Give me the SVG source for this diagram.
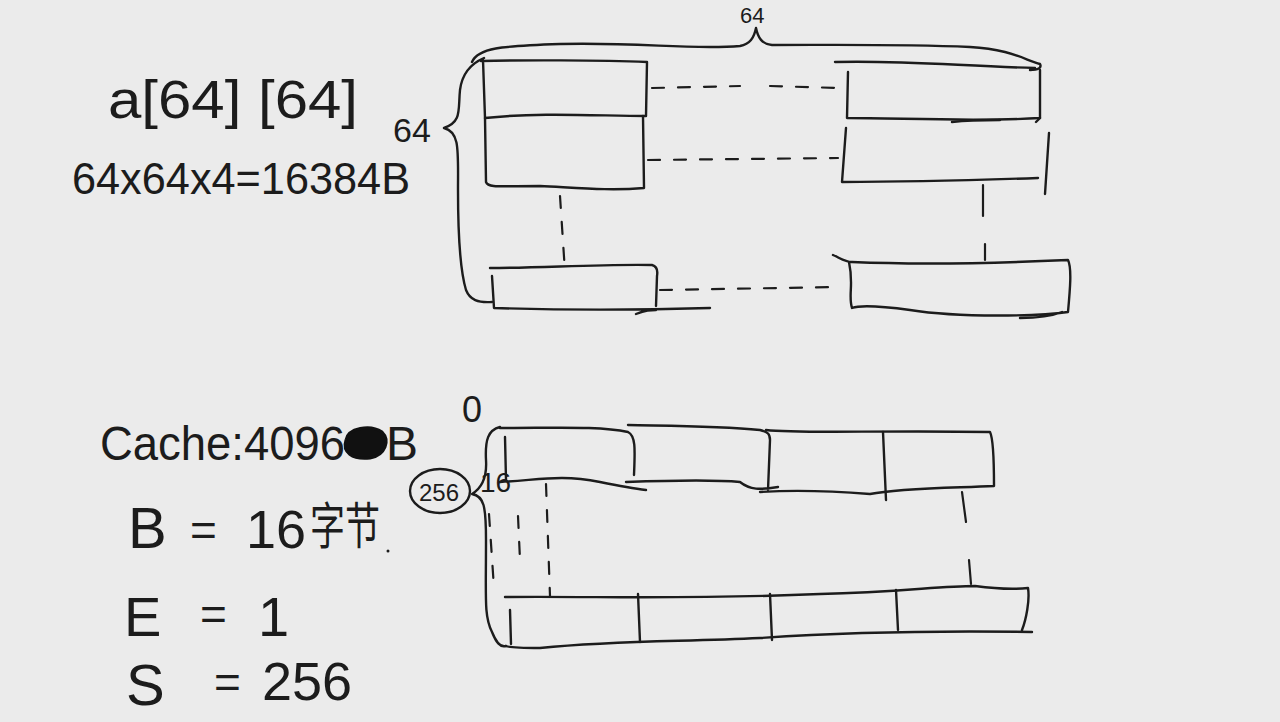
<svg xmlns="http://www.w3.org/2000/svg" width="1280" height="722" viewBox="0 0 1280 722">
<style>
.s{fill:none;stroke:#1c1c1c;stroke-width:2.4;stroke-linecap:round;stroke-linejoin:round}
.d{fill:none;stroke:#1c1c1c;stroke-width:2.2;stroke-linecap:round;stroke-dasharray:12 14}
.t{font-family:"Liberation Sans","Noto Sans CJK SC",sans-serif;fill:#1c1c1c}
</style>
<rect width="1280" height="722" fill="#ebebeb"/>

<g id="formula">
<text class="t" x="108" y="118" font-size="54" textLength="250" lengthAdjust="spacingAndGlyphs">a[64] [64]</text>
<text class="t" x="72" y="194" font-size="44" textLength="338" lengthAdjust="spacingAndGlyphs">64x64x4=16384B</text>
</g>

<g id="label-64-top"><text class="t" x="740" y="23" font-size="22">64</text></g>
<g id="label-64-side"><text class="t" x="393" y="142" font-size="34">64</text></g>

<g id="array-matrix">
<path class="s" d="M472,62 C478,48 500,46 560,44 C640,42 690,50 740,46 C750,44 754,38 756,28 C758,38 762,44 772,45 C840,45 900,44 970,47 C1010,49 1025,60 1040,64 C1042,68 1038,70 1030,70"/>
<path class="s" d="M484,58 C470,64 462,74 460,90 C458,110 462,122 444,128 C460,132 458,150 458,190 C458,240 460,270 466,290 C470,300 478,303 492,302"/>
<path class="s" d="M483,60 L485,118 M481,61 C520,60 600,60 647,62 L646,116 C600,116 540,112 485,118"/>
<path class="s" d="M485,118 L486,182 C488,188 500,186 540,186 C580,188 610,191 644,188 L643,116"/>
<path class="s" d="M490,268 C540,268 600,264 652,265 C656,266 658,270 657,276 L656,306 M492,276 L494,308 C560,310 640,310 710,308 M636,314 C646,310 650,310 656,310"/>
<path class="s" d="M835,62 C900,60 960,66 1035,68 M848,72 L847,118 C900,118 980,122 1040,118 L1040,70"/>
<path class="s" d="M952,122 C970,120 990,120 1000,120 M1036,122 L1040,118"/>
<path class="s" d="M846,128 L842,182 C900,182 980,180 1038,178 M1049,133 L1045,194"/>
<path class="s" d="M833,255 C840,258 845,262 852,262 C900,264 980,264 1068,260 C1072,268 1070,290 1068,312 C1040,316 960,318 910,310 C880,306 860,305 852,308 C848,295 854,285 849,262 M1020,318 C1040,318 1052,316 1062,312"/>
<path class="d" d="M652,88 L740,86"/>
<path class="d" d="M770,86 L840,88" stroke-dasharray="3 8 14 10"/>
<path class="d" d="M648,160 L838,158"/>
<path class="d" d="M560,196 L565,272"/>
<path class="d" d="M983,185 L983,216 M985,244 L985,260" style="stroke-dasharray:none"/>
<path class="d" d="M660,290 L840,287"/>
</g>

<g id="cache-params">
<text class="t" x="100" y="460" font-size="48" textLength="245" lengthAdjust="spacingAndGlyphs">Cache:4096</text>
<path d="M346,440 C348,428 370,424 382,432 C390,440 386,455 370,458 C352,460 342,452 346,440 Z" fill="#111" stroke="#111" stroke-width="3"/>
<text class="t" x="386" y="460" font-size="48">B</text>
<text class="t" x="128" y="548" font-size="58">B</text>
<text class="t" x="190" y="546" font-size="46">=</text>
<text class="t" x="246" y="548" font-size="54">16</text>
<text class="t" x="310" y="544" font-size="50" textLength="70" lengthAdjust="spacingAndGlyphs">字节</text>
<circle cx="388" cy="551" r="1.5" fill="#1c1c1c"/>
<text class="t" x="124" y="636" font-size="56">E</text>
<text class="t" x="200" y="630" font-size="46">=</text>
<text class="t" x="258" y="636" font-size="56">1</text>
<text class="t" x="126" y="705" font-size="58">S</text>
<text class="t" x="214" y="698" font-size="46">=</text>
<text class="t" x="262" y="700" font-size="54">256</text>
</g>

<g id="label-0"><text class="t" x="462" y="422" font-size="36">0</text></g>
<g id="label-256">
<ellipse class="s" cx="440" cy="491" rx="30" ry="22"/>
<text class="t" x="419" y="501" font-size="24">256</text>
</g>
<g id="label-16"><text class="t" x="480" y="492" font-size="28">16</text></g>

<g id="cache-lines">
<path class="s" d="M500,427 C488,430 485,440 486,460 C487,476 482,488 472,494 C484,496 486,506 486,540 C486,600 484,616 492,632 C496,642 500,648 506,646"/>
<path class="s" d="M500,428 C560,428 600,426 628,432 C636,436 635,450 634,475 M505,437 L506,480"/>
<path class="s" d="M500,482 C540,480 560,474 600,482 C615,485 630,488 646,490"/>
<path class="s" d="M628,425 C680,426 720,426 760,430 C768,432 770,434 770,440 L768,490 M626,482 C680,480 720,480 740,482 C750,490 760,490 778,487"/>
<path class="s" d="M766,430 C800,434 880,430 990,432 C994,440 994,470 994,486 C950,488 900,488 870,494 C820,490 790,490 760,492"/>
<path class="s" d="M883,432 L886,500"/>
<path class="d" d="M489,514 L494,588" stroke-dasharray="6 14"/>
<path class="d" d="M518,516 L520,560" stroke-dasharray="8 14"/>
<path class="d" d="M546,484 L550,596"/>
<path class="d" d="M962,492 L966,522 M969,560 L971,584" style="stroke-dasharray:none"/>
<path class="s" d="M505,597 C600,596 680,600 820,594 C900,592 940,586 975,586 C990,588 1010,590 1028,588 C1030,600 1026,620 1022,630 M1032,632 C900,630 820,634 760,638 C680,642 620,640 540,648 C520,648 510,648 506,646"/>
<path class="s" d="M510,610 L511,644 M638,594 L640,642 M770,594 L772,640 M896,590 L898,630"/>
</g>
</svg>
